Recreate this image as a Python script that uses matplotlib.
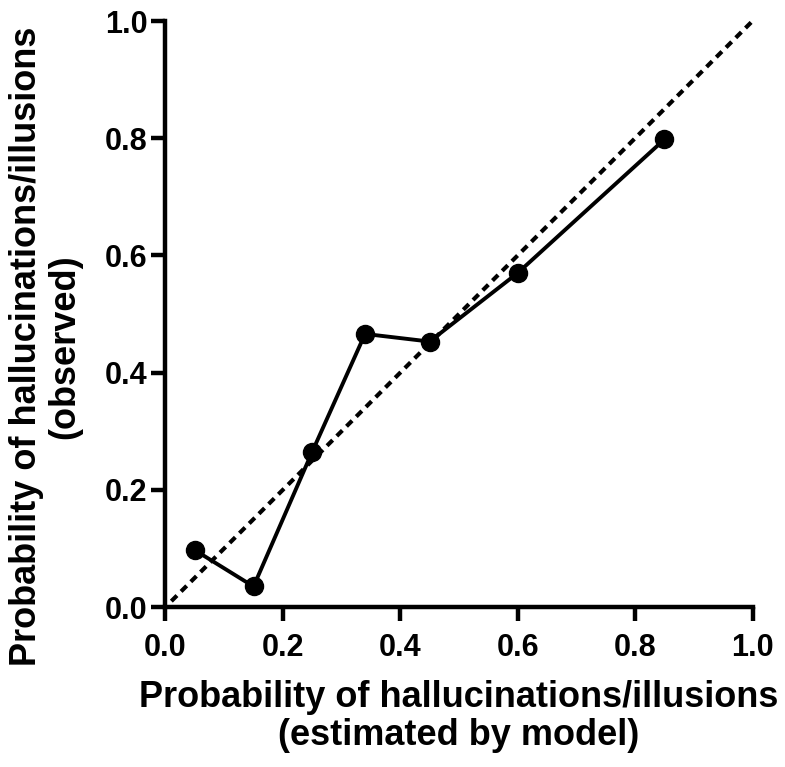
import matplotlib.pyplot as plt

# calibration points
estimated = [0.05, 0.15, 0.25, 0.34, 0.45, 0.60, 0.85]
observed = [0.097, 0.035, 0.265, 0.466, 0.453, 0.570, 0.798]
ticks = [0.0, 0.2, 0.4, 0.6, 0.8, 1.0]
tick_labels = ["0.0", "0.2", "0.4", "0.6", "0.8", "1.0"]

plt.rcParams['font.family'] = ['Liberation Sans', 'DejaVu Sans']

fig = plt.figure(figsize=(7.85, 7.67), dpi=100)
ax = fig.add_axes([0.2108, 0.2086, 0.7478, 0.7640])

# identity line
ax.plot([0.01, 1.0], [0.01, 1.0], color='black', lw=3, ls=(0, (1.9, 1.4)))
ax.plot(estimated, observed, color='black', lw=2.8, marker='o', ms=13, clip_on=False)

ax.set_xlim(0, 1)
ax.set_ylim(0, 1)
ax.set_xticks(ticks)
ax.set_yticks(ticks)
ax.set_xticklabels(tick_labels, fontsize=22, fontweight='bold')
ax.set_yticklabels(tick_labels, fontsize=22, fontweight='bold')
ax.tick_params(direction='out', length=10, width=3.2, pad=3)
ax.tick_params(axis='x', pad=9)

for side in ['top', 'right']:
    ax.spines[side].set_visible(False)
for side in ['left', 'bottom']:
    ax.spines[side].set_linewidth(3.2)

ax.set_xlabel("Probability of hallucinations/illusions\n(estimated by model)",
              fontsize=26, fontweight='bold', labelpad=12, linespacing=1.12)
ax.set_ylabel("Probability of hallucinations/illusions\n(observed)",
              fontsize=26, fontweight='bold', linespacing=1.12)
ax.yaxis.set_label_coords(-0.142, 0.445)

fig.savefig("out.png", dpi=100)
